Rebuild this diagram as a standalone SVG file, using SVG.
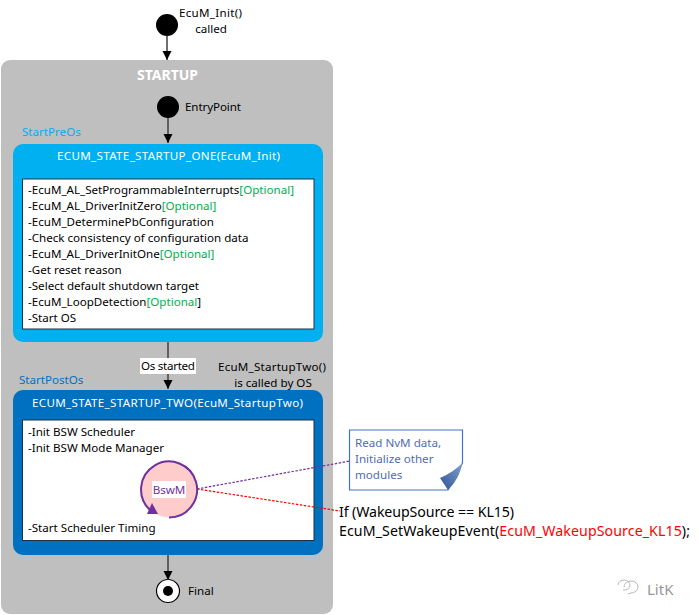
<svg xmlns="http://www.w3.org/2000/svg" width="699" height="615" viewBox="0 0 699 615">
<defs>
<marker id="arr" markerWidth="10" markerHeight="10" refX="9" refY="4.5" orient="auto" markerUnits="userSpaceOnUse"><path d="M0 0L9 4.5L0 9Z" fill="#000"/></marker>
<linearGradient id="fold" x1="0" y1="1" x2="1" y2="0"><stop offset="0" stop-color="#2f5597"/><stop offset="1" stop-color="#7f9fd0"/></linearGradient>
</defs>
<style>
text{font-family:"Noto Sans","Open Sans","DejaVu Sans",sans-serif;font-size:11.6px;fill:#000}
.w{fill:#fff}.g{fill:#00b050}.m{text-anchor:middle}
.c{stroke:#404040;stroke-width:1.5;fill:none;marker-end:url(#arr)}
.code{font-size:14.200px}
.nt{fill:#4f6db0}
</style>
<rect width="699" height="615" fill="#fff"/>
<g id="startup"><rect x="1" y="60" width="332" height="554" rx="9" fill="#bfbfbf"/><text class="w m" x="167.500" y="80" style="font-size:14px;font-weight:700">STARTUP</text></g>
<g id="init"><circle cx="167" cy="25" r="11" fill="#000"/><text x="179" y="17" textLength="63">EcuM_Init()</text><text class="m" x="211" y="33">called</text></g>
<g id="entry"><circle cx="168" cy="107" r="11" fill="#000"/><text x="185" y="111" textLength="56">EntryPoint</text></g>
<g id="one"><text x="22" y="136" style="fill:#00b0f0">StartPreOs</text>
<rect x="13" y="144" width="310" height="198" rx="10" fill="#00b0f0"/><text class="w" x="57" y="160" textLength="223">ECUM_STATE_STARTUP_ONE(EcuM_Init)</text>
<rect x="22.500" y="179" width="291.500" height="150" fill="#fff" stroke="#1f3040"/>
<text x="28" y="194">-EcuM_AL_SetProgrammableInterrupts<tspan class="g">[Optional]</tspan></text>
<text x="28" y="210">-EcuM_AL_DriverInitZero<tspan class="g">[Optional]</tspan></text>
<text x="28" y="226">-EcuM_DeterminePbConfiguration</text>
<text x="28" y="242">-Check consistency of configuration data</text>
<text x="28" y="258">-EcuM_AL_DriverInitOne<tspan class="g">[Optional]</tspan></text>
<text x="28" y="274">-Get reset reason</text>
<text x="28" y="290">-Select default shutdown target</text>
<text x="28" y="306">-EcuM_LoopDetection<tspan class="g">[Optional</tspan>]</text>
<text x="28" y="322">-Start OS</text></g>
<g id="two"><text x="19" y="384" style="fill:#0070c0">StartPostOs</text>
<rect x="13" y="390" width="310" height="165" rx="10" fill="#0070c0"/><text class="w" x="32" y="407" textLength="271">ECUM_STATE_STARTUP_TWO(EcuM_StartupTwo)</text>
<rect x="22.500" y="420" width="291.500" height="120.500" fill="#fff" stroke="#1f3040"/>
<text x="28" y="436">-Init BSW Scheduler</text>
<text x="28" y="452">-Init BSW Mode Manager</text>
<text x="28" y="532">-Start Scheduler Timing</text></g>
<g id="final"><circle cx="168" cy="591" r="11.500" fill="#fff" stroke="#000" stroke-width="1.200"/><circle cx="168" cy="591" r="5" fill="#000"/><text x="188" y="595">Final</text></g>
<g id="connectors">
<path class="c" d="M167 36V60"/><path class="c" d="M168 118V143"/><path class="c" d="M168 342V389"/><path class="c" d="M168 555V580"/>
<path d="M197 489L350 461" stroke="#7030a0" stroke-width="1.200" stroke-dasharray="2.500 1.500" fill="none"/>
<path d="M197 489L340 511" stroke="#f00" stroke-width="1.200" stroke-dasharray="2.500 1.500" fill="none"/>
</g>
<g id="os-started"><rect x="140" y="358" width="56" height="16" fill="#fff"/><text x="141" y="370" textLength="54">Os started</text></g>
<g id="startup-two-note"><text x="218" y="371" textLength="108">EcuM_StartupTwo()</text><text class="m" x="273" y="387">is called by OS</text></g>
<g id="bswm"><circle cx="169" cy="489.500" r="28" fill="#ffcccc"/>
<path d="M169 517.500A28 28 0 1 0 150 510" fill="none" stroke="#7030a0" stroke-width="2"/><path d="M147 514L158 514L152 503Z" fill="#7030a0"/>
<rect x="152" y="481" width="34" height="17" fill="#fff"/><text class="m" x="169" y="494" style="fill:#7030a0">BswM</text></g>
<g id="note"><path d="M349.500 430H462.500V463L448 490H349.500Z" fill="#fff" stroke="#4472c4" stroke-width="1.200"/>
<path d="M462.500 463C455 470 449 474 440 478L448 490C456 482 460 474 462.500 463Z" fill="url(#fold)"/>
<text class="nt" x="355" y="447">Read NvM data,</text><text class="nt" x="355" y="463">Initialize other</text><text class="nt" x="355" y="479">modules</text></g>
<g id="code"><text class="code" x="339" y="517" textLength="175">If (WakeupSource == KL15)</text>
<text class="code" x="339" y="536" textLength="351">EcuM_SetWakeupEvent(<tspan style="fill:#f00">EcuM_WakeupSource_KL15</tspan>);</text></g>
<g id="watermark"><path d="M618 585a6 5 0 1 1 5 5M624 587a7 6 0 1 1 7 6l-3 1" fill="none" stroke="#b8b8b8" stroke-width="1"/><text x="647" y="595" style="font-size:15px;fill:#999">LitK</text></g>
</svg>
